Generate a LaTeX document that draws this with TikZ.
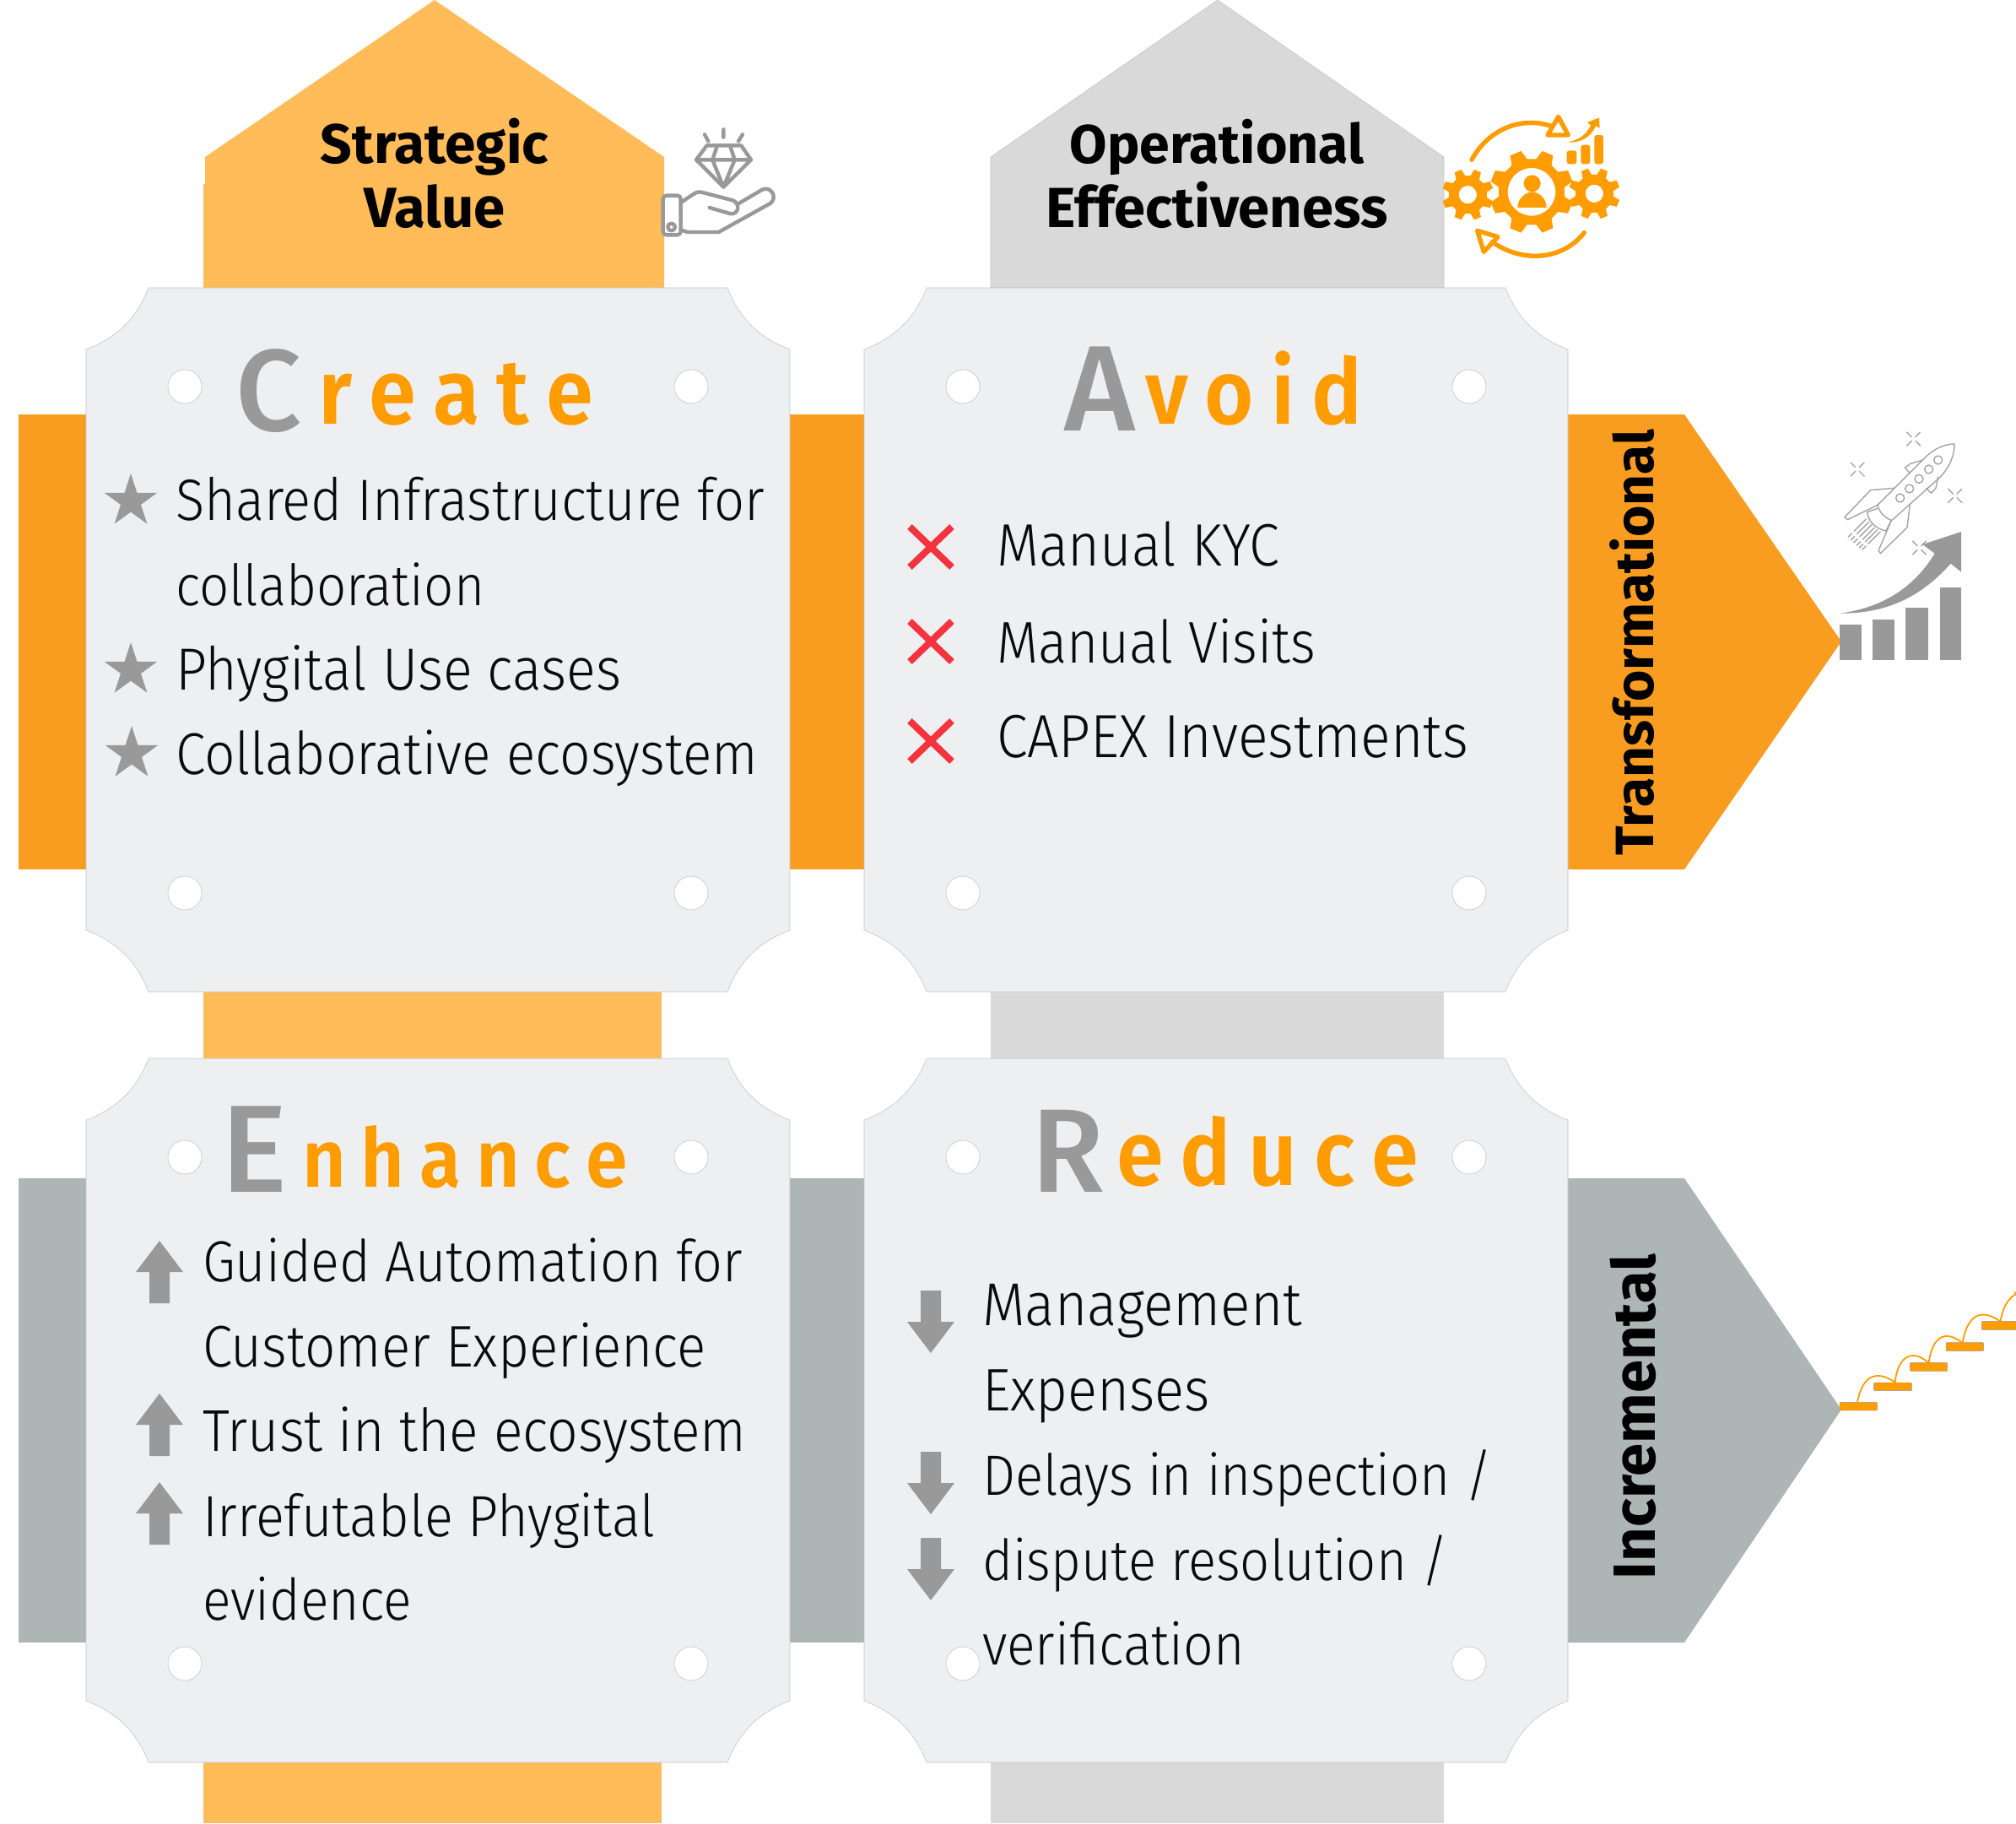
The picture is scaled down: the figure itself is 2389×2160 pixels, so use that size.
\documentclass[tikz,border=0pt]{standalone}
\usepackage{fontspec}
\usepackage{graphicx}
\usetikzlibrary{shapes.geometric}
\newfontfamily\lightf{Fira Sans Light}
\newfontfamily\boldf{Fira Sans Bold}
\newfontfamily\semif{Fira Sans SemiBold}
\newfontfamily\regf{Fira Sans Medium}
\definecolor{orangeA}{HTML}{F99D20}
\definecolor{orangeL}{HTML}{FFBC59}
\definecolor{orangeI}{HTML}{FF9C00}
\definecolor{greyL}{HTML}{D9D9D9}
\definecolor{slate}{HTML}{ADB5B5}
\definecolor{cardc}{HTML}{EEEFF1}
\definecolor{edgec}{HTML}{C4C4C4}
\definecolor{iconc}{HTML}{999999}
\definecolor{redx}{HTML}{F5333F}
\definecolor{inkc}{HTML}{0A0A0A}
\newlength\pxu \setlength\pxu{0.5pt}
\tikzset{
  tline/.style={anchor=base west,inner sep=0pt,outer sep=0pt,text=inkc,font=\lightf},
  hline/.style={anchor=base,inner sep=0pt,outer sep=0pt,text=black,font=\boldf},
  biglet/.style={anchor=base west,inner sep=0pt,outer sep=0pt,text=iconc,font=\regf},
  smalllet/.style={anchor=base west,inner sep=0pt,outer sep=0pt,text=orangeI,font=\semif},
  rotl/.style={anchor=base west,inner sep=0pt,outer sep=0pt,text=black,font=\boldf,rotate=90},
  starn/.style={star,star points=5,star point ratio=2.618,fill=iconc,draw=none,minimum size=33pt,inner sep=0pt},
  iconl/.style={draw=iconc,line width=2.2pt,line cap=round,line join=round},
  rockl/.style={draw=iconc!90,line width=0.7pt,line cap=round,line join=round},
  gearf/.style={fill=orangeI,draw=none,even odd rule},
  xmark/.style={draw=redx,line width=4pt},
}
\newcommand\tlx[5]{\node[tline] (#1) at (#2,#3) {\resizebox{#4\pxu}{!}{\scalebox{1}[1.09]{#5}}};}
\newcommand\hlx[5]{\node[hline] (#1) at (#2,#3) {\resizebox{#4\pxu}{!}{#5}};}
\newcommand\blx[5]{\node[biglet] (#1) at (#2,#3) {\resizebox{#4\pxu}{!}{#5}};}
\newcommand\slx[5]{\node[smalllet] (#1) at (#2,#3) {\resizebox{#4\pxu}{!}{\scalebox{1}[1.08]{#5}}};}
\newcommand\cardat[2]{%
  \begin{scope}[shift={(#1,#2)}]
    \path[fill=cardc,draw=edgec,line width=0.3pt]
      (74,0) -- (760,0)
      .. controls (774,36) and (797,59) .. (834,73) -- (834,761)
      .. controls (797,775) and (774,798) .. (760,834) -- (74,834)
      .. controls (60,798) and (37,775) .. (0,761) -- (0,73)
      .. controls (37,59) and (60,36) .. (74,0) -- cycle;
    \foreach \hx in {117,717}{\foreach \hy in {117,717}{
      \path[fill=white,draw=edgec,line width=0.3pt] (\hx,\hy) circle (20);
    }}
  \end{scope}}
\newcommand\arrowup[2]{\fill[iconc,shift={(#1,#2)}] (0,-37) -- (28,0) -- (12,0) -- (12,37) -- (-12,37) -- (-12,0) -- (-28,0) -- cycle;}
\newcommand\arrowdn[2]{\fill[iconc,shift={(#1,#2)}] (0,37) -- (28,0) -- (12,0) -- (12,-37) -- (-12,-37) -- (-12,0) -- (-28,0) -- cycle;}
\newcommand\xm[2]{\draw[xmark,shift={(#1,#2)}] (-25,-24) -- (25,24) (-25,24) -- (25,-24);}
\newcommand\gear[6]{% cx cy outer root hole phase
  \begin{scope}[shift={(#1,#2)}]
    \fill[gearf]
      (#6-14.4:#4)
      \foreach \k in {0,45,...,315}{
        -- ({#6+\k-14.4}:#4) -- ({#6+\k-8}:#3) -- ({#6+\k+8}:#3) -- ({#6+\k+14.4}:#4)
      } -- cycle
      (0,0) circle (#5);
  \end{scope}}
\newcommand\spark[2]{\draw[rockl,shift={(#1,#2)}] (-24,-24) -- (-7,-7) (24,-24) -- (7,-7) (-24,24) -- (-7,7) (24,24) -- (7,7);}
\begin{document}
\begin{tikzpicture}[x=0.5pt,y=-0.5pt]
\useasboundingbox (0,0) rectangle (2389,2160);
\clip (0,0) rectangle (2389,2160);

% vertical bands
\fill[orangeL] (515,0) -- (787,186) -- (787,341) -- (241,341) -- (241,218) -- (243,218) -- (243,186) -- cycle;
\fill[orangeL] (241,1170) rectangle (784,1260);
\fill[orangeL] (241,2080) rectangle (784,2160);
\path[fill=greyL,draw=edgec,line width=0.3pt] (1443,0) -- (1711,186) -- (1711,341) -- (1174,341) -- (1174,186) -- cycle;
\fill[greyL] (1174,1170) rectangle (1711,1260);
\fill[greyL] (1174,2080) rectangle (1711,2160);
% horizontal bands
\fill[orangeA] (22,491) rectangle (110,1030);
\fill[orangeA] (930,491) rectangle (1030,1030);
\fill[orangeA] (1850,491) -- (1996,491) -- (2182,760) -- (1996,1030) -- (1850,1030) -- cycle;
\fill[slate] (22,1396) rectangle (110,1946);
\fill[slate] (930,1396) rectangle (1030,1946);
\fill[slate] (1850,1396) -- (1996,1396) -- (2182,1670) -- (1996,1946) -- (1850,1946) -- cycle;

% cards
\cardat{102}{341}
\cardat{1024}{341}
\cardat{102}{1254}
\cardat{1024}{1254}

% headings
\hlx{hA}{515}{193}{270}{Strategic}
\hlx{hB}{515}{269}{167}{Value}
\hlx{hC}{1442}{193}{349}{Operational}
\hlx{hD}{1442}{269}{405}{Effectiveness}
\node[rotl] (rA) at (1959,1013) {\resizebox{504\pxu}{!}{Transformational}};
\node[rotl] (rB) at (1961,1871) {\resizebox{385\pxu}{!}{Incremental}};

% titles
\blx{t1}{279}{510}{78}{C}
\slx{t2}{377}{502}{326}{r\kern.2em e\kern.2em a\kern.2em t\kern.2em e}
\blx{t3}{1261}{510}{84}{A}
\slx{t4}{1357}{502}{257}{v\kern.2em o\kern.2em i\kern.2em d}
\blx{t5}{262}{1412}{78}{E}
\slx{t6}{358}{1406}{386}{n\kern.2em h\kern.2em a\kern.2em n\kern.2em c\kern.2em e}
\blx{t7}{1222}{1412}{86}{R}
\slx{t8}{1323}{1404}{358}{e\kern.2em d\kern.2em u\kern.2em c\kern.2em e}

% body text
\tlx{a1}{208}{616}{698}{Shared Infrastructure for}
\tlx{a2}{208}{717}{366}{collaboration}
\tlx{a3}{208}{817}{528}{Phygital Use cases}
\tlx{a4}{208}{917}{690}{Collaborative ecosystem}
\tlx{b1}{1181}{670}{335}{Manual KYC}
\tlx{b2}{1181}{785}{378}{Manual Visits}
\tlx{b3}{1181}{897}{559}{CAPEX Investments}
\tlx{c1}{240}{1518}{640}{Guided Automation for}
\tlx{c2}{240}{1619}{597}{Customer Experience}
\tlx{c3}{240}{1719}{644}{Trust in the ecosystem}
\tlx{c4}{240}{1820}{536}{Irrefutable Phygital}
\tlx{c5}{240}{1919}{248}{evidence}
\tlx{d1}{1164}{1570}{379}{Management}
\tlx{d2}{1164}{1671}{270}{Expenses}
\tlx{d3}{1164}{1771}{604}{Delays in inspection /}
\tlx{d4}{1164}{1872}{552}{dispute resolution /}
\tlx{d5}{1164}{1972}{311}{verification}

% bullets
\node[starn] (s1) at (155,594) {};
\node[starn] (s2) at (155,794) {};
\node[starn] (s3) at (156,893) {};
\xm{1103}{648}
\xm{1103}{760}
\xm{1103}{878}
\arrowup{189}{1507}
\arrowup{189}{1688}
\arrowup{189}{1793}
\arrowdn{1103}{1566}
\arrowdn{1103}{1757}
\arrowdn{1103}{1859}

% diamond and hand icon
\begin{scope}[shift={(740,120)},scale=0.3333]
  \draw[iconl] (293,157) -- (415,157) -- (450,208) -- (352,305) -- (255,208) -- cycle
    (255,208) -- (450,208)
    (330,157) -- (313,208) -- (352,305) -- (392,208) -- (375,157)
    (285,118) -- (298,142) (352,100) -- (352,128) (420,118) -- (405,142);
  \draw[iconl,rounded corners=2pt] (137,335) rectangle (200,475);
  \draw[iconl] (167,447) circle (13);
  \draw[iconl] (203,358) -- (250,327) .. controls (262,320) and (270,322) .. (285,326) -- (385,352)
     .. controls (412,362) and (408,402) .. (378,400) -- (302,378);
  \draw[iconl] (403,365) -- (490,314) .. controls (520,300) and (545,340) .. (520,362) -- (335,465) -- (225,465) -- (203,458);
\end{scope}

% gears icon
\begin{scope}[shift={(1680,110)},scale=0.3333]
  \gear{405}{352}{150}{118}{85}{22.5}
  \gear{178}{362}{92}{68}{32}{22.5}
  \gear{628}{358}{92}{68}{32}{22.5}
  \fill[orangeI] (407,322) circle (30);
  \fill[orangeI] (355,408) .. controls (355,375) and (385,352) .. (407,352) .. controls (430,352) and (458,375) .. (458,408) -- cycle;
  \draw[orangeI,line width=2.7pt,line cap=round] (192,238) .. controls (250,130) and (370,80) .. (480,120);
  \draw[orangeI,line width=2.7pt,line join=round] (500,85) -- (535,150) -- (462,150) -- cycle;
  \draw[orangeI,line width=2.7pt,line cap=round] (592,497) .. controls (520,590) and (380,610) .. (265,530);
  \draw[orangeI,line width=2.7pt,line join=round] (212,490) -- (285,512) -- (235,565) -- cycle;
  \fill[orangeI,rounded corners=1.5pt] (530,205) rectangle (565,253);
  \fill[orangeI,rounded corners=1.5pt] (580,185) rectangle (613,253);
  \fill[orangeI,rounded corners=1.5pt] (628,150) rectangle (660,253);
  \fill[orangeI] (530,175) .. controls (570,170) and (600,150) .. (615,115) -- (603,105) -- (645,88) -- (647,125) -- (633,118) .. controls (615,160) and (575,180) .. (530,175) -- cycle;
\end{scope}

% rocket icon and chart
\begin{scope}[shift={(2140,490)},scale=0.3333]
  \draw[rockl] (255,325) -- (425,155) .. controls (455,125) and (495,108) .. (528,108) .. controls (530,150) and (505,200) .. (475,228) -- (305,380);
  \draw[rockl] (255,325) .. controls (260,350) and (280,370) .. (305,380);
  \draw[rockl] (218,350) -- (255,337) (218,350) .. controls (222,385) and (250,410) .. (285,417) -- (303,380);
  \foreach \cx/\cy in {335/300,368/267,402/232,437/198,470/165}{\draw[rockl] (\cx,\cy) circle (15);}
  \draw[rockl] (312,265) -- (230,272) -- (138,368) -- (148,377) -- (255,325);
  \draw[rockl] (370,322) -- (360,405) -- (265,497) -- (258,487) -- (303,382);
  \draw[rockl] (415,165) -- (372,178) -- (352,192) -- (370,212);
  \draw[rockl] (470,225) -- (462,265) -- (445,283) -- (428,265);
  \foreach \ex/\ey in {214/375,224/385,234/395,244/405,254/413,264/420}{
    \draw[rockl,dash pattern=on 10pt off 2pt on 3pt off 2pt] (\ex,\ey) -- ({\ex-70},{\ey+70});}
  \spark{383}{90}
  \spark{183}{198}
  \spark{530}{292}
  \spark{403}{477}
  \fill[iconc] (120,750) rectangle (197,875);
  \fill[iconc] (237,733) rectangle (315,875);
  \fill[iconc] (355,690) rectangle (436,875);
  \fill[iconc] (477,618) rectangle (552,875);
  \fill[iconc] (120,710) .. controls (280,690) and (390,610) .. (458,497) -- (415,465) -- (552,420) -- (552,563) -- (515,533) .. controls (420,640) and (300,712) .. (120,710) -- cycle;
\end{scope}

% stairs icon
\begin{scope}[shift={(2150,1500)},scale=0.3333]
  \tikzset{stair/.style={fill=orangeI,draw=iconc,line width=0.2pt,rounded corners=0.5pt}}
  \path[stair] (90,484) rectangle (224,513);
  \path[stair] (212,414) rectangle (346,443);
  \path[stair] (340,343) rectangle (473,373);
  \path[stair] (468,272) rectangle (602,302);
  \path[stair] (595,196) rectangle (760,227);
  \tikzset{hop/.style={draw=orangeI,line width=0.9pt}}
  \draw[hop] (153,484) .. controls (170,395) and (215,365) .. (285,412);
  \draw[hop] (287,414) .. controls (295,325) and (345,290) .. (405,343);
  \draw[hop] (407,343) .. controls (420,250) and (465,225) .. (525,272);
  \draw[hop] (527,272) .. controls (545,170) and (595,150) .. (660,196);
  \draw[hop] (662,196) .. controls (670,140) and (695,110) .. (720,98);
  \fill[orangeI] (708,92) -- (725,92) -- (718,105) -- cycle;
\end{scope}
\end{tikzpicture}
\end{document}
